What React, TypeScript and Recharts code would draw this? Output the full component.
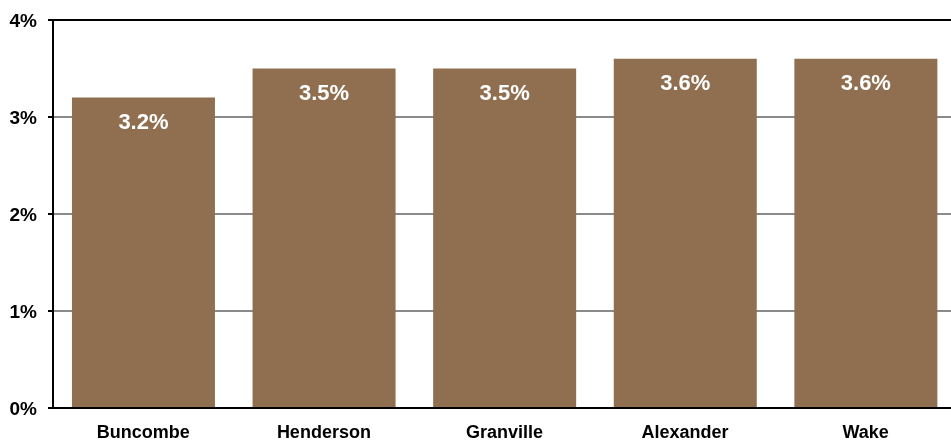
import React from 'react';
import { BarChart, Bar, XAxis, YAxis, CartesianGrid, ReferenceLine, LabelList } from 'recharts';

const counties = ['Buncombe', 'Henderson', 'Granville', 'Alexander', 'Wake'];
const rates = [3.2, 3.5, 3.5, 3.6, 3.6];
const yTicks = [0, 1, 2, 3, 4];

const data = counties.map((name, i) => ({ name, rate: rates[i] }));

const font = 'Arial, "Liberation Sans", Helvetica, sans-serif';

const App: React.FC = () => {
  return (
    <div style={{ position: 'fixed', top: 0, left: 0, width: 951, height: 442, overflow: 'hidden', fontFamily: font }}>
      <BarChart
        width={958}
        height={442}
        data={data}
        margin={{ top: 20, right: 2, bottom: 0, left: 0 }}
        barCategoryGap="10.5%"
      >
        <CartesianGrid vertical={false} stroke="#8a8a8a" strokeWidth={2} />
        <XAxis
          dataKey="name"
          height={34}
          tickLine={false}
          tickSize={0}
          tickMargin={17}
          axisLine={{ stroke: '#000', strokeWidth: 2 }}
          tick={{ fill: '#000', fontSize: 18, fontWeight: 'bold', fontFamily: font }}
        />
        <YAxis
          width={53}
          domain={[0, 4]}
          ticks={yTicks}
          interval={0}
          tickFormatter={(v: number) => `${v}%`}
          tickSize={5}
          tickMargin={11}
          axisLine={{ stroke: '#000', strokeWidth: 2 }}
          tickLine={{ stroke: '#000', strokeWidth: 2 }}
          tick={{ fill: '#000', fontSize: 19, fontWeight: 'bold', fontFamily: font }}
        />
        <ReferenceLine y={4} stroke="#000" strokeWidth={2} />
        <Bar dataKey="rate" fill="#8f6f4f" isAnimationActive={false}>
          <LabelList
            dataKey="rate"
            position="insideTop"
            offset={16}
            formatter={(v: number) => `${v.toFixed(1)}%`}
            style={{ fill: '#fff', fontSize: 22, fontWeight: 'bold', fontFamily: font }}
          />
        </Bar>
      </BarChart>
    </div>
  );
};

export default App;
